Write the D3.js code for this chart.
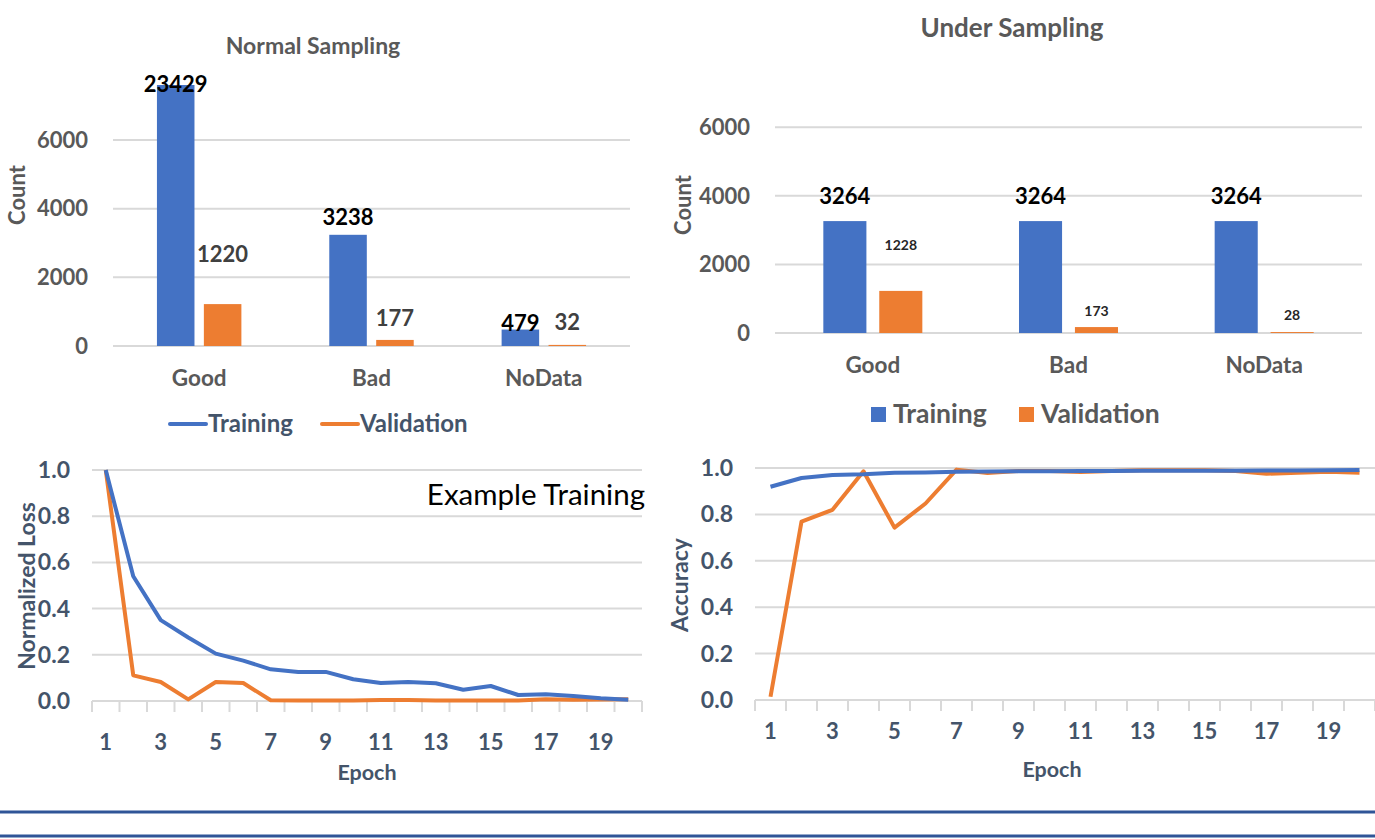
<!DOCTYPE html>
<html>
<head>
<meta charset="utf-8">
<script src="https://cdn.jsdelivr.net/npm/d3@7"></script>
<style>
  body { margin: 0; background: #fff; }
  svg { display: block; }
  text { font-family: Lato, "Open Sans", sans-serif; }
</style>
</head>
<body>
<div id="chart"></div>
<script>
// ---- data ----
const categories = ["Good", "Bad", "NoData"];
const seriesNames = ["Training", "Validation"];

const normalTraining = [23429, 3238, 479];
const normalValidation = [1220, 177, 32];
const underTraining = [3264, 3264, 3264];
const underValidation = [1228, 173, 28];

const countTicks = [0, 2000, 4000, 6000];

const epochs = d3.range(1, 21);
const epochTickLabels = [1, 3, 5, 7, 9, 11, 13, 15, 17, 19];
const rateTicks = [0, 0.2, 0.4, 0.6, 0.8, 1.0];

const lossTraining = [1.0, 0.54, 0.35, 0.275, 0.205, 0.175, 0.137, 0.126, 0.126, 0.094,
                      0.078, 0.082, 0.077, 0.049, 0.065, 0.026, 0.029, 0.022, 0.012, 0.005];
const lossValidation = [1.0, 0.111, 0.082, 0.007, 0.082, 0.078, 0.003, 0.002, 0.002, 0.002,
                        0.004, 0.004, 0.002, 0.002, 0.002, 0.002, 0.008, 0.005, 0.007, 0.008];

const accTraining = [0.919, 0.957, 0.97, 0.973, 0.98, 0.981, 0.984, 0.985, 0.986, 0.986,
                     0.987, 0.987, 0.988, 0.988, 0.988, 0.988, 0.989, 0.989, 0.99, 0.991];
const accValidation = [0.014, 0.769, 0.82, 0.986, 0.743, 0.847, 0.993, 0.978, 0.987, 0.987,
                       0.983, 0.987, 0.99, 0.99, 0.99, 0.987, 0.975, 0.98, 0.984, 0.98];

// ---- styling ----
const width = 1375, height = 839;
const blue = "#4472c4", orange = "#ed7d31";
const grid = "#d9d9d9";
const gray = "#595959", slate = "#44546a";

const svg = d3.select("#chart").append("svg")
  .attr("width", width).attr("height", height);

// grouped bar chart helper
function barChart(o) {
  const g = svg.append("g");
  const x0 = d3.scaleBand().domain(categories).range(o.xr)
    .paddingInner(o.pad).paddingOuter(o.pad / 2);
  const x1 = d3.scaleBand().domain(seriesNames).range([0, x0.bandwidth()]).paddingInner(o.inner);
  const y = d3.scaleLinear().domain([0, o.max]).range(o.yr);

  // gridlines
  g.selectAll(".grid").data(countTicks).enter().append("line")
    .attr("x1", o.xr[0]).attr("x2", o.xr[1])
    .attr("y1", d => y(d)).attr("y2", d => y(d))
    .attr("stroke", grid).attr("stroke-width", 2);

  // y axis labels
  g.selectAll(".ytl").data(countTicks).enter().append("text")
    .attr("x", o.xr[0] - 25).attr("y", d => y(d)).attr("dy", "0.35em")
    .attr("text-anchor", "end").attr("font-size", 22).attr("font-weight", "bold")
    .attr("fill", gray).text(d => d);

  // x axis labels
  g.selectAll(".xtl").data(categories).enter().append("text")
    .attr("x", d => x0(d) + x0.bandwidth() / 2).attr("y", y(0) + 32)
    .attr("dy", "0.35em").attr("text-anchor", "middle")
    .attr("font-size", 22.5).attr("font-weight", "bold").attr("fill", gray).text(d => d);

  // bars
  const rows = [];
  categories.forEach((c, i) => {
    rows.push({ c, s: "Training", v: o.train[i], k: i });
    rows.push({ c, s: "Validation", v: o.valid[i], k: i });
  });
  g.selectAll(".bar").data(rows).enter().append("rect")
    .attr("x", d => x0(d.c) + x1(d.s))
    .attr("y", d => y(Math.min(d.v, o.max)))
    .attr("width", x1.bandwidth())
    .attr("height", d => y(0) - y(Math.min(d.v, o.max)))
    .attr("fill", d => d.s === "Training" ? blue : orange);

  // value labels
  g.selectAll(".lbl").data(rows).enter().append("text")
    .attr("x", d => x0(d.c) + x1(d.s) + x1.bandwidth() / 2)
    .attr("y", d => y(Math.min(d.v, o.max)) + o.nudgeY[d.s][d.k])
    .attr("text-anchor", "middle").attr("font-weight", "bold")
    .attr("font-size", d => d.s === "Training" ? o.fsT : o.fsV)
    .attr("fill", d => d.s === "Training" ? "#000" : o.vColor)
    .text(d => d.v);

  // title
  g.append("text").attr("x", o.title[1]).attr("y", o.title[2])
    .attr("text-anchor", "middle").attr("font-size", o.titleSize).attr("font-weight", "bold")
    .attr("fill", gray).text(o.title[0]);

  // y axis title
  g.append("text").attr("transform", `translate(${o.ylab[0]},${o.ylab[1]}) rotate(-90)`)
    .attr("text-anchor", "middle").attr("dy", "0.35em")
    .attr("font-size", 22).attr("font-weight", "bold").attr("fill", gray).text("Count");
}

barChart({
  xr: [113, 630], yr: [346, 85], max: 7600, pad: 0.51, inner: 0.2,
  train: normalTraining, valid: normalValidation,
  nudgeY: { Training: [7, -10, 1], Validation: [-42, -14, -15] },
  fsT: 22, fsV: 22, vColor: "#404040",
  title: ["Normal Sampling", 313, 54], titleSize: 23, ylab: [17, 195]
});

barChart({
  xr: [775, 1362], yr: [333, 93], max: 7000, pad: 0.494, inner: 0.23,
  train: underTraining, valid: underValidation,
  nudgeY: { Training: [-17, -17, -17], Validation: [-41, -11, -12] },
  fsT: 22, fsV: 14, vColor: "#262626",
  title: ["Under Sampling", 1012, 37], titleSize: 26, ylab: [683, 205]
});

// top-right legend
const legTop = svg.append("g");
[["Training", blue, 871], ["Validation", orange, 1019]].forEach(([name, col, lx]) => {
  legTop.append("rect").attr("x", lx).attr("y", 407).attr("width", 15).attr("height", 15).attr("fill", col);
  legTop.append("text").attr("x", lx + 22).attr("y", 414).attr("dy", "0.35em")
    .attr("font-size", 26.5).attr("font-weight", "bold").attr("fill", gray).text(name);
});

// line chart helper
function lineChart(o) {
  const g = svg.append("g");
  const x = d3.scaleBand().domain(epochs).range(o.xr);
  const y = d3.scaleLinear().domain([0, 1]).range(o.yr);
  const cx = e => x(e) + x.bandwidth() / 2;

  g.selectAll(".grid").data(rateTicks).enter().append("line")
    .attr("x1", o.xr[0]).attr("x2", o.xr[1])
    .attr("y1", d => y(d)).attr("y2", d => y(d))
    .attr("stroke", grid).attr("stroke-width", 2);

  // tick marks at band boundaries
  g.selectAll(".tk").data(epochs.concat([21])).enter().append("line")
    .attr("x1", e => e <= 20 ? x(e) : o.xr[1]).attr("x2", e => e <= 20 ? x(e) : o.xr[1])
    .attr("y1", y(0)).attr("y2", y(0) + 11)
    .attr("stroke", grid).attr("stroke-width", 2);

  g.selectAll(".ytl").data(rateTicks).enter().append("text")
    .attr("x", o.xr[0] - 22).attr("y", d => y(d)).attr("dy", "0.35em")
    .attr("text-anchor", "end").attr("font-size", 23).attr("font-weight", "bold")
    .attr("fill", slate).text(d => d3.format(".1f")(d));

  g.selectAll(".xtl").data(epochTickLabels).enter().append("text")
    .attr("x", e => cx(e)).attr("y", y(0) + o.xlabOff).attr("dy", "0.35em")
    .attr("text-anchor", "middle").attr("font-size", 22).attr("font-weight", "bold")
    .attr("fill", slate).text(d => d);

  g.append("text").attr("x", o.epochX).attr("y", y(0) + o.epochOff).attr("dy", "0.35em")
    .attr("text-anchor", "middle").attr("font-size", 21.5).attr("font-weight", "bold")
    .attr("fill", slate).text("Epoch");

  g.append("text").attr("transform", `translate(${o.ylab[0]},${o.ylab[1]}) rotate(-90)`)
    .attr("text-anchor", "middle").attr("dy", "0.35em")
    .attr("font-size", 23).attr("font-weight", "bold").attr("fill", slate).text(o.ylab[2]);

  const line = d3.line().x((d, i) => cx(epochs[i])).y(d => y(d));
  [[o.valid, orange], [o.train, blue]].forEach(([vals, col]) => {
    g.append("path").datum(vals).attr("d", line)
      .attr("fill", "none").attr("stroke", col).attr("stroke-width", 4)
      .attr("stroke-linejoin", "round");
  });
}

lineChart({
  xr: [92, 642], yr: [701, 470], train: lossTraining, valid: lossValidation,
  xlabOff: 41, epochX: 367, epochOff: 71, ylab: [27, 586, "Normalized Loss"]
});

lineChart({
  xr: [755, 1375], yr: [700, 468], train: accTraining, valid: accValidation,
  xlabOff: 31, epochX: 1052, epochOff: 69, ylab: [680, 585, "Accuracy"]
});

// bottom-left legend (line swatches)
const legBot = svg.append("g");
[["Training", blue, 170], ["Validation", orange, 322]].forEach(([name, col, lx]) => {
  legBot.append("line").attr("x1", lx).attr("x2", lx + 36).attr("y1", 424).attr("y2", 424)
    .attr("stroke", col).attr("stroke-width", 4).attr("stroke-linecap", "round");
  legBot.append("text").attr("x", lx + 38).attr("y", 424).attr("dy", "0.35em")
    .attr("font-size", 24).attr("font-weight", "bold").attr("fill", slate).text(name);
});

// annotation
svg.append("text").attr("x", 645).attr("y", 495).attr("dy", "0.35em")
  .attr("text-anchor", "end").attr("font-size", 29.5)
  .attr("fill", "#000").text("Example Training");

// footer rules
[812, 836].forEach(yy => {
  svg.append("line").attr("x1", 0).attr("x2", width).attr("y1", yy).attr("y2", yy)
    .attr("stroke", "#2f5597").attr("stroke-width", 3);
});
</script>
</body>
</html>
